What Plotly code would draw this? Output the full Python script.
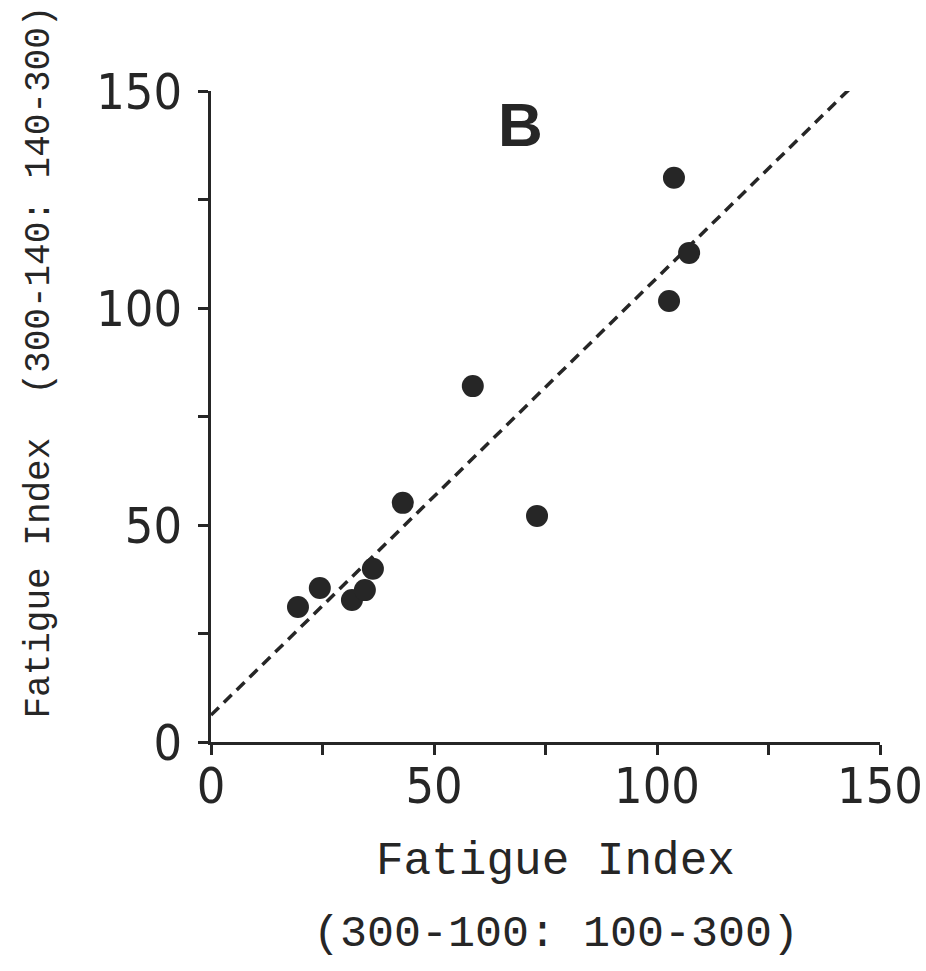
import plotly.graph_objects as go

# Data
fi_300_100 = [19.5, 24.4, 31.6, 34.5, 36.3, 43.0, 58.7, 73.1, 102.7, 103.8, 107.2]
fi_300_140 = [31.1, 35.5, 32.7, 35.0, 39.9, 55.1, 82.0, 52.1, 101.6, 130.0, 112.7]
fit_x = [0, 143.9]
fit_y = [6.2, 151.2]
tick_vals = [0, 25, 50, 75, 100, 125, 150]
tick_text = ["0", "", "50", "", "100", "", "150"]

TICKFONT = "DejaVu Sans Condensed, DejaVu Sans, sans-serif"
MONO = "Liberation Mono, DejaVu Sans Mono, monospace"
INK = "#262626"

fig = go.Figure()
fig.add_trace(go.Scatter(x=fit_x, y=fit_y, mode="lines",
                         line=dict(color=INK, width=3.5, dash="11px,7px"),
                         hoverinfo="skip"))
fig.add_trace(go.Scatter(x=fi_300_100, y=fi_300_140, mode="markers",
                         marker=dict(size=22, color=INK, line=dict(width=0)),
                         cliponaxis=False))

axis_common = dict(tickvals=tick_vals, ticktext=tick_text, ticks="outside",
                   ticklen=10, tickwidth=3, tickcolor=INK, showgrid=False,
                   zeroline=False, automargin=False, showline=True, linewidth=3,
                   linecolor=INK, tickfont=dict(family=TICKFONT, size=50, color=INK))

fig.update_layout(
    width=926, height=971,
    margin=dict(l=211, r=46, t=91, b=229, autoexpand=False),
    paper_bgcolor="white", plot_bgcolor="white",
    showlegend=False,
    xaxis=dict(range=[0, 150], ticklabelstandoff=-12, **axis_common),
    yaxis=dict(range=[0, 150], ticklabelstandoff=6, **axis_common),
    annotations=[
        dict(text="Fatigue Index", xref="paper", yref="paper", x=0.515, y=-0.184,
             xanchor="center", yanchor="middle", showarrow=False,
             font=dict(family=MONO, size=46, color=INK)),
        dict(text="(300-100: 100-300)", xref="paper", yref="paper", x=0.515, y=-0.296,
             xanchor="center", yanchor="middle", showarrow=False,
             font=dict(family=MONO, size=45, color=INK)),
        dict(text="Fatigue Index  (300-140: 140-300)", xref="paper", yref="paper",
             x=-0.256, y=0.584, xanchor="center", yanchor="middle", textangle=-90,
             showarrow=False, font=dict(family=MONO, size=36, color=INK)),
        dict(text="<b>B</b>", xref="paper", yref="paper", x=0.463, y=0.948,
             xanchor="center", yanchor="middle", showarrow=False,
             font=dict(family="Liberation Sans, Arial, sans-serif", size=62, color=INK)),
    ],
)

fig.write_html("out.html")
